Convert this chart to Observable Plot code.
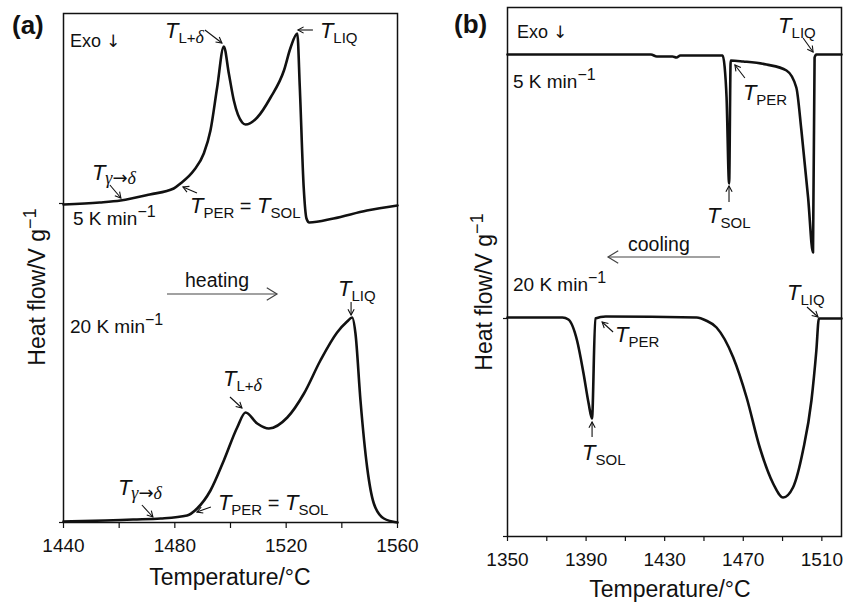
<!DOCTYPE html>
<html>
<head>
<meta charset="utf-8">
<script src="https://cdn.jsdelivr.net/npm/d3@7"></script>
<script src="https://cdn.jsdelivr.net/npm/@observablehq/plot@0.6"></script>
<style>
  html, body { margin: 0; padding: 0; background: #fff; }
  #wrap { position: relative; width: 856px; height: 603px; overflow: hidden; }
  #wrap svg { position: absolute; top: 0; overflow: visible; }
</style>
</head>
<body>
<div id="wrap"></div>
<script>
// ---------------- DATA (heat flow in arbitrary units) ----------------
// Panel (a): heating, 5 K/min
const tempA5 = [1440, 1453, 1460.5, 1471, 1479.6, 1482, 1486.8, 1490.4, 1492.8, 1495.2, 1497.6, 1499.4, 1501.2, 1504.2, 1505.4, 1509.6, 1514.4, 1519.2, 1521.6, 1524, 1524.9, 1526.3, 1527.3, 1528.3, 1537, 1549, 1560];
const flowA5 = [318, 320, 322, 328, 334, 339, 352, 369, 392, 435, 476, 449, 422, 400, 398, 405, 425, 452, 475, 489, 435, 335, 304, 300, 304, 312, 317];
// Panel (a): heating, 20 K/min
const tempA20 = [1440, 1455, 1465, 1474.9, 1484.4, 1488, 1492.8, 1497.6, 1502.4, 1505.4, 1509.6, 1513.8, 1520.4, 1526.4, 1532.3, 1538.3, 1541.9, 1543.7, 1544.9, 1546.7, 1549.1, 1551.5, 1555.1, 1560];
const flowA20 = [1, 2, 3, 4, 7, 14, 32, 62, 95, 110, 99, 94, 105, 129, 162, 190, 201, 205, 189, 122, 55, 19, 4, 0];
// Panel (b): cooling, 5 K/min
const tempB5 = [1350, 1423, 1426, 1434, 1436, 1438, 1459.5, 1460.5, 1461.5, 1462.8, 1463.6, 1470, 1481.8, 1492, 1497, 1499.6, 1503, 1505.5, 1506.3, 1507.2, 1520];
const flowB5 = [482, 482, 480, 480, 479, 481, 481, 470, 439, 353, 476, 475, 472, 466, 449, 406, 339, 284, 479, 482, 482];
// Panel (b): cooling, 20 K/min
const tempB20 = [1350, 1378, 1381, 1385.4, 1388.7, 1391.3, 1393, 1394.7, 1400, 1446.3, 1451, 1456.4, 1464.9, 1471.7, 1478.4, 1485.2, 1490.3, 1495.3, 1500.4, 1504.7, 1507.2, 1508.5, 1520];
const flowB20 = [219, 219, 217, 196, 163, 133, 118, 218, 220, 219, 216, 209, 179, 139, 89, 53, 39, 49, 86, 136, 186, 218, 218];

// Axes
const xDomainA = [1440, 1560];
const xTicksA = [1440, 1460, 1480, 1500, 1520, 1540, 1560];
const xLabelsA = [1440, 1480, 1520, 1560];
const yTicksA = [0, 319];
const xDomainB = [1350, 1520];
const xTicksB = [1350, 1370, 1390, 1410, 1430, 1450, 1470, 1490, 1510];
const xLabelsB = [1350, 1390, 1430, 1470, 1510];
const yTicksB = [0, 218];

// Characteristic points marked on the curves (temperature, heat flow)
const markA = [
  {key: "gd",  T: 1460.8, v: 324},
  {key: "ps",  T: 1483.1, v: 335},
  {key: "ld",  T: 1497.1, v: 479},
  {key: "liq", T: 1524.4, v: 492},
  {key: "gd",  T: 1472.3, v: 5},
  {key: "ps",  T: 1488.1, v: 10},
  {key: "ld",  T: 1504.3, v: 114},
  {key: "liq", T: 1543.5, v: 207}
];
const markB = [
  {key: "liq", T: 1505.8, v: 484},
  {key: "per", T: 1466.0, v: 471},
  {key: "sol", T: 1463.0, v: 350},
  {key: "liq", T: 1508.3, v: 219},
  {key: "per", T: 1398.4, v: 214},
  {key: "sol", T: 1393.3, v: 114}
];

// ---------------- LAYOUT / STYLE ----------------
const FONT = '"Liberation Sans", Arial, Helvetica, sans-serif';
const SERIF = '"Liberation Serif", "DejaVu Serif", serif';
// arrow tail offset and label offset (px) relative to marked point
const offA = [
  {tail: [-11, -13], text: [-29, -18]},
  {tail: [14, 6],    text: [7, 26]},
  {tail: [-17, -13], text: [-57, -5]},
  {tail: [15, 0],    text: [22, 8]},
  {tail: [-11, -12], text: [-35, -22]},
  {tail: [14, -5],   text: [21, -2]},
  {tail: [-12, -11], text: [-19, -22]},
  {tail: [0, -13],   text: [-13, -19]}
];
const offB = [
  {tail: [-10, -14], text: [-35, -19]},
  {tail: [10, 13],   text: [8, 35]},
  {tail: [0, 16],    text: [-22, 37]},
  {tail: [-11, -10], text: [-31, -17]},
  {tail: [11, 10],   text: [13, 20]},
  {tail: [0, 15],    text: [-10, 38]}
];

const TI = {t: "T", italic: true, size: 22};
const sub = (t) => ({t, size: 15, dy: 5});
const LABELS = {
  gd:  [TI, {t: "γ", italic: true, serif: true, size: 18, dy: 4}, {t: "→", size: 18, family: '"DejaVu Sans", sans-serif'}, {t: "δ", italic: true, serif: true, size: 18}],
  ps:  [TI, sub("PER"), {t: " = ", size: 20, dy: -5}, TI, sub("SOL")],
  ld:  [TI, sub("L+"), {t: "δ", italic: true, serif: true, size: 18}],
  liq: [TI, sub("LIQ")],
  per: [TI, sub("PER")],
  sol: [TI, sub("SOL")]
};

function richText(g, x, y, parts, anchor) {
  const t = g.append("text").attr("x", x).attr("y", y).attr("fill", "#111")
    .attr("font-family", FONT).attr("text-anchor", anchor || "start");
  for (const p of parts) {
    const s = t.append("tspan").text(p.t).attr("font-size", p.size);
    if (p.italic) s.attr("font-style", "italic");
    if (p.serif) s.attr("font-family", SERIF);
    if (p.family) s.attr("font-family", p.family);
    if (p.dy) s.attr("dy", p.dy);
    if (p.bold) s.attr("font-weight", "bold");
  }
  return t;
}

function arrow(g, x1, y1, x2, y2, len, ang, color, w) {
  g.append("line").attr("x1", x1).attr("y1", y1).attr("x2", x2).attr("y2", y2)
    .attr("stroke", color).attr("stroke-width", w);
  const a = Math.atan2(y2 - y1, x2 - x1);
  const p1 = [x2 - len * Math.cos(a - ang), y2 - len * Math.sin(a - ang)];
  const p2 = [x2 - len * Math.cos(a + ang), y2 - len * Math.sin(a + ang)];
  g.append("path").attr("d", `M${p1}L${x2},${y2}L${p2}`)
    .attr("fill", "none").attr("stroke", color).attr("stroke-width", w);
}

function panel(opts) {
  const chart = Plot.plot({
    width: opts.width, height: 603,
    marginLeft: opts.ml, marginRight: opts.mr, marginTop: opts.mt, marginBottom: 603 - opts.bottom,
    x: {domain: opts.xDomain},
    y: {domain: [0, opts.bottom - opts.mt]},
    style: {fontFamily: FONT, background: "transparent", color: "#111", overflow: "visible"},
    marks: [
      Plot.axisX({ticks: opts.xTicks, tickSize: opts.tickSize, tickPadding: opts.tickPad, fontSize: 19,
        tickFormat: d => opts.xLabels.includes(d) ? String(d) : "", label: null, strokeWidth: 1.2}),
      Plot.axisY({ticks: opts.yTicks, tickSize: 4, tickFormat: () => "", label: null, strokeWidth: 1.2}),
      Plot.frame({stroke: "#111", strokeWidth: 1.5}),
      ...opts.series.map(([xs, ys]) =>
        Plot.line({length: xs.length}, {x: xs, y: ys, curve: "monotone-x", stroke: "#111", strokeWidth: 2.6}))
    ]
  });
  chart.style.left = opts.left + "px";
  const sx = chart.scale("x"), sy = chart.scale("y");
  const g = d3.select(chart).append("g");
  // characteristic point annotations
  opts.marks.forEach((m, i) => {
    const px = sx.apply(m.T), py = sy.apply(m.v);
    const o = opts.offs[i];
    arrow(g, px + o.tail[0], py + o.tail[1], px, py, 6.5, 0.5, "#111", 1.1);
    richText(g, px + o.text[0], py + o.text[1], LABELS[m.key]);
  });
  // free texts (page coords)
  const L = opts.left;
  richText(g, opts.tag[0] - L, opts.tag[1], [{t: opts.tagText, size: 26, bold: true}]);
  richText(g, opts.exo[0] - L, opts.exo[1], [{t: "Exo ", size: 18}, {t: "↓", size: 17, family: '"DejaVu Sans", sans-serif'}]);
  richText(g, opts.r5[0] - L, opts.r5[1], [{t: "5 K min", size: 19}, {t: "−1", size: 16, dy: -8}]);
  richText(g, opts.r20[0] - L, opts.r20[1], [{t: "20 K min", size: 19}, {t: "−1", size: 16, dy: -8}]);
  richText(g, opts.dir[0] - L, opts.dir[1], [{t: opts.dirText, size: 19.5}]);
  arrow(g, opts.dirArrow[0] - L, opts.dirArrow[1], opts.dirArrow[2] - L, opts.dirArrow[1], 12, 0.55, "#444", 1.2);
  // axis titles
  richText(g, opts.xTitle[0] - L, opts.xTitle[1], [{t: "Temperature/°C", size: 23}], "middle");
  const yt = richText(g, 0, 0, [{t: "Heat flow/V g", size: 23}, {t: "−1", size: 18, dy: -9}], "middle");
  yt.attr("transform", `translate(${opts.yTitle[0] - L},${opts.yTitle[1]}) rotate(-90)`);
  document.getElementById("wrap").appendChild(chart);
}

panel({
  left: 0, width: 430, ml: 63, mr: 33, mt: 13, bottom: 522,
  xDomain: xDomainA, xTicks: xTicksA, xLabels: xLabelsA, yTicks: yTicksA, tickSize: 6, tickPad: 10,
  series: [[tempA5, flowA5], [tempA20, flowA20]],
  marks: markA, offs: offA,
  tagText: "(a)", tag: [12, 34], exo: [70, 47], r5: [73, 225], r20: [70, 333],
  dirText: "heating", dir: [185, 287], dirArrow: [167, 294, 277],
  xTitle: [230, 585], yTitle: [45, 287]
});
panel({
  left: 430, width: 426, ml: 77, mr: 15, mt: 7, bottom: 536,
  xDomain: xDomainB, xTicks: xTicksB, xLabels: xLabelsB, yTicks: yTicksB, tickSize: 5, tickPad: 11,
  series: [[tempB5, flowB5], [tempB20, flowB20]],
  marks: markB, offs: offB,
  tagText: "(b)", tag: [454, 33], exo: [517, 38], r5: [513, 88], r20: [513, 291],
  dirText: "cooling", dir: [628, 251], dirArrow: [720, 257, 608],
  xTitle: [670, 597], yTitle: [492, 292]
});
</script>
</body>
</html>
